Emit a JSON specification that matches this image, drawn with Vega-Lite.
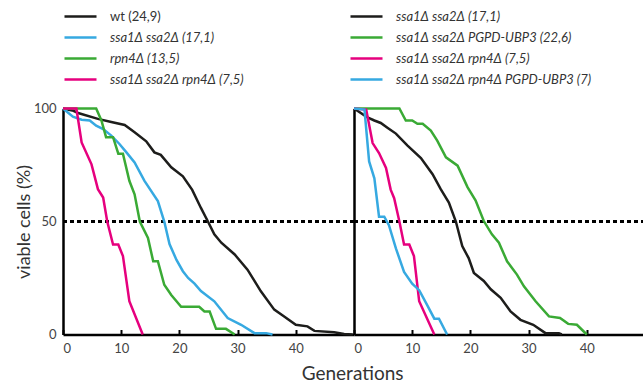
{
  "$schema": "https://vega.github.io/schema/vega-lite/v6.json",
  "padding": {"left": 15, "top": 9.5, "right": 0, "bottom": 0},
  "spacing": 0,
  "bounds": "flush",
  "config": {
    "view": {"stroke": null},
    "font": "Lato",
    "legend": {
      "orient": "none",
      "symbolType": "M-3.2,0H3.2",
      "symbolSize": 100,
      "symbolStrokeWidth": 2.5,
      "symbolFillColor": "transparent",
      "labelFont": "Lato",
      "labelFontSize": 13,
      "labelColor": "#333333",
      "rowPadding": 7,
      "labelOffset": 23,
      "labelLimit": 400,
      "padding": 0,
      "title": null
    },
    "axis": {
      "grid": false,
      "domainColor": "black",
      "domainWidth": 2.5,
      "labelFont": "Lato",
      "labelFontSize": 13,
      "labelColor": "#444444",
      "titleFont": "Lato",
      "titleFontWeight": "normal",
      "titleColor": "#333333"
    }
  },
  "title": {"text": "Generations", "orient": "bottom", "anchor": "middle", "fontSize": 19, "fontWeight": "normal", "font": "Lato", "color": "#333333", "offset": 10, "dx": 22},
  "resolve": {"scale": {"color": "independent"}, "legend": {"color": "independent"}},
  "datasets": {
    "left": [
      {"s": "wt (24,9)", "g": 0, "v": 100}, {"s": "wt (24,9)", "g": 1.8, "v": 99}, {"s": "wt (24,9)", "g": 2.6, "v": 98}, {"s": "wt (24,9)", "g": 6, "v": 95.4}, {"s": "wt (24,9)", "g": 8.3, "v": 94}, {"s": "wt (24,9)", "g": 10.6, "v": 92.7}, {"s": "wt (24,9)", "g": 12.3, "v": 89.5}, {"s": "wt (24,9)", "g": 14.3, "v": 85.5}, {"s": "wt (24,9)", "g": 15.7, "v": 80.6}, {"s": "wt (24,9)", "g": 16.8, "v": 79.5}, {"s": "wt (24,9)", "g": 18.6, "v": 74}, {"s": "wt (24,9)", "g": 20.6, "v": 70}, {"s": "wt (24,9)", "g": 22.2, "v": 64}, {"s": "wt (24,9)", "g": 23.7, "v": 56}, {"s": "wt (24,9)", "g": 24.9, "v": 50}, {"s": "wt (24,9)", "g": 26, "v": 44.3}, {"s": "wt (24,9)", "g": 27.2, "v": 40.6}, {"s": "wt (24,9)", "g": 29.5, "v": 35.4}, {"s": "wt (24,9)", "g": 31.7, "v": 28.7}, {"s": "wt (24,9)", "g": 34, "v": 19.1}, {"s": "wt (24,9)", "g": 36.3, "v": 11}, {"s": "wt (24,9)", "g": 38, "v": 8}, {"s": "wt (24,9)", "g": 40, "v": 4.3}, {"s": "wt (24,9)", "g": 42, "v": 3.6}, {"s": "wt (24,9)", "g": 43.2, "v": 1.6}, {"s": "wt (24,9)", "g": 46.6, "v": 1}, {"s": "wt (24,9)", "g": 48.3, "v": 0.2}, {"s": "wt (24,9)", "g": 49.8, "v": 0},
      {"s": "ssa1Δ ssa2Δ (17,1)", "g": 0, "v": 100}, {"s": "ssa1Δ ssa2Δ (17,1)", "g": 1.7, "v": 96.4}, {"s": "ssa1Δ ssa2Δ (17,1)", "g": 3.2, "v": 95}, {"s": "ssa1Δ ssa2Δ (17,1)", "g": 4.6, "v": 94.7}, {"s": "ssa1Δ ssa2Δ (17,1)", "g": 5.7, "v": 92.4}, {"s": "ssa1Δ ssa2Δ (17,1)", "g": 6.9, "v": 90.9}, {"s": "ssa1Δ ssa2Δ (17,1)", "g": 8.3, "v": 88}, {"s": "ssa1Δ ssa2Δ (17,1)", "g": 9.7, "v": 84.3}, {"s": "ssa1Δ ssa2Δ (17,1)", "g": 10.9, "v": 80.6}, {"s": "ssa1Δ ssa2Δ (17,1)", "g": 12.3, "v": 76.1}, {"s": "ssa1Δ ssa2Δ (17,1)", "g": 14, "v": 68}, {"s": "ssa1Δ ssa2Δ (17,1)", "g": 16.3, "v": 59}, {"s": "ssa1Δ ssa2Δ (17,1)", "g": 17.4, "v": 50}, {"s": "ssa1Δ ssa2Δ (17,1)", "g": 18.3, "v": 40}, {"s": "ssa1Δ ssa2Δ (17,1)", "g": 19.5, "v": 33}, {"s": "ssa1Δ ssa2Δ (17,1)", "g": 20.6, "v": 28}, {"s": "ssa1Δ ssa2Δ (17,1)", "g": 21.5, "v": 25}, {"s": "ssa1Δ ssa2Δ (17,1)", "g": 22.6, "v": 22.5}, {"s": "ssa1Δ ssa2Δ (17,1)", "g": 23.7, "v": 19.2}, {"s": "ssa1Δ ssa2Δ (17,1)", "g": 26, "v": 14.7}, {"s": "ssa1Δ ssa2Δ (17,1)", "g": 28.3, "v": 7.3}, {"s": "ssa1Δ ssa2Δ (17,1)", "g": 30.6, "v": 4.3}, {"s": "ssa1Δ ssa2Δ (17,1)", "g": 32.9, "v": 0.6}, {"s": "ssa1Δ ssa2Δ (17,1)", "g": 34.9, "v": 0.6}, {"s": "ssa1Δ ssa2Δ (17,1)", "g": 36, "v": 0},
      {"s": "rpn4Δ (13,5)", "g": 0, "v": 100}, {"s": "rpn4Δ (13,5)", "g": 5.7, "v": 100}, {"s": "rpn4Δ (13,5)", "g": 6.6, "v": 94.7}, {"s": "rpn4Δ (13,5)", "g": 7.4, "v": 87.3}, {"s": "rpn4Δ (13,5)", "g": 8.6, "v": 87.3}, {"s": "rpn4Δ (13,5)", "g": 9.5, "v": 80}, {"s": "rpn4Δ (13,5)", "g": 10.3, "v": 80}, {"s": "rpn4Δ (13,5)", "g": 11.4, "v": 68}, {"s": "rpn4Δ (13,5)", "g": 12.3, "v": 62}, {"s": "rpn4Δ (13,5)", "g": 13.2, "v": 50}, {"s": "rpn4Δ (13,5)", "g": 14.6, "v": 42.7}, {"s": "rpn4Δ (13,5)", "g": 15.5, "v": 32.4}, {"s": "rpn4Δ (13,5)", "g": 16.3, "v": 32.4}, {"s": "rpn4Δ (13,5)", "g": 17.4, "v": 22}, {"s": "rpn4Δ (13,5)", "g": 18.6, "v": 17.5}, {"s": "rpn4Δ (13,5)", "g": 20.3, "v": 12.3}, {"s": "rpn4Δ (13,5)", "g": 23.4, "v": 12.3}, {"s": "rpn4Δ (13,5)", "g": 24.3, "v": 10.2}, {"s": "rpn4Δ (13,5)", "g": 25.2, "v": 10.2}, {"s": "rpn4Δ (13,5)", "g": 26.3, "v": 2.5}, {"s": "rpn4Δ (13,5)", "g": 28, "v": 2.5}, {"s": "rpn4Δ (13,5)", "g": 29.5, "v": 0},
      {"s": "ssa1Δ ssa2Δ rpn4Δ (7,5)", "g": 0, "v": 100}, {"s": "ssa1Δ ssa2Δ rpn4Δ (7,5)", "g": 2.3, "v": 100}, {"s": "ssa1Δ ssa2Δ rpn4Δ (7,5)", "g": 3.2, "v": 85}, {"s": "ssa1Δ ssa2Δ rpn4Δ (7,5)", "g": 4.9, "v": 75.3}, {"s": "ssa1Δ ssa2Δ rpn4Δ (7,5)", "g": 6, "v": 64.3}, {"s": "ssa1Δ ssa2Δ rpn4Δ (7,5)", "g": 6.9, "v": 60.6}, {"s": "ssa1Δ ssa2Δ rpn4Δ (7,5)", "g": 7.6, "v": 50}, {"s": "ssa1Δ ssa2Δ rpn4Δ (7,5)", "g": 8.6, "v": 39.8}, {"s": "ssa1Δ ssa2Δ rpn4Δ (7,5)", "g": 9.5, "v": 39.8}, {"s": "ssa1Δ ssa2Δ rpn4Δ (7,5)", "g": 10.3, "v": 34.7}, {"s": "ssa1Δ ssa2Δ rpn4Δ (7,5)", "g": 11.4, "v": 14.7}, {"s": "ssa1Δ ssa2Δ rpn4Δ (7,5)", "g": 13.7, "v": 0}
    ],
    "right": [
      {"s": "ssa1Δ ssa2Δ (17,1)", "g": 0, "v": 100}, {"s": "ssa1Δ ssa2Δ (17,1)", "g": 2.3, "v": 96.1}, {"s": "ssa1Δ ssa2Δ (17,1)", "g": 3.5, "v": 94.7}, {"s": "ssa1Δ ssa2Δ (17,1)", "g": 4.6, "v": 93.6}, {"s": "ssa1Δ ssa2Δ (17,1)", "g": 5.8, "v": 91.4}, {"s": "ssa1Δ ssa2Δ (17,1)", "g": 7.2, "v": 88.9}, {"s": "ssa1Δ ssa2Δ (17,1)", "g": 9.2, "v": 83.6}, {"s": "ssa1Δ ssa2Δ (17,1)", "g": 11.5, "v": 78.1}, {"s": "ssa1Δ ssa2Δ (17,1)", "g": 13.5, "v": 70.9}, {"s": "ssa1Δ ssa2Δ (17,1)", "g": 14.9, "v": 64.3}, {"s": "ssa1Δ ssa2Δ (17,1)", "g": 16.3, "v": 58.4}, {"s": "ssa1Δ ssa2Δ (17,1)", "g": 17.5, "v": 50}, {"s": "ssa1Δ ssa2Δ (17,1)", "g": 18.6, "v": 39.1}, {"s": "ssa1Δ ssa2Δ (17,1)", "g": 19.7, "v": 33.8}, {"s": "ssa1Δ ssa2Δ (17,1)", "g": 20.6, "v": 27.2}, {"s": "ssa1Δ ssa2Δ (17,1)", "g": 22.3, "v": 23.7}, {"s": "ssa1Δ ssa2Δ (17,1)", "g": 23.5, "v": 20}, {"s": "ssa1Δ ssa2Δ (17,1)", "g": 25.2, "v": 16.2}, {"s": "ssa1Δ ssa2Δ (17,1)", "g": 26.9, "v": 10.2}, {"s": "ssa1Δ ssa2Δ (17,1)", "g": 28.6, "v": 6.5}, {"s": "ssa1Δ ssa2Δ (17,1)", "g": 30.8, "v": 4.3}, {"s": "ssa1Δ ssa2Δ (17,1)", "g": 32.9, "v": 0.6}, {"s": "ssa1Δ ssa2Δ (17,1)", "g": 35.2, "v": 0.6}, {"s": "ssa1Δ ssa2Δ (17,1)", "g": 35.7, "v": 0},
      {"s": "ssa1Δ ssa2Δ PGPD-UBP3 (22,6)", "g": 0, "v": 100}, {"s": "ssa1Δ ssa2Δ PGPD-UBP3 (22,6)", "g": 7.8, "v": 100}, {"s": "ssa1Δ ssa2Δ PGPD-UBP3 (22,6)", "g": 8.9, "v": 94.7}, {"s": "ssa1Δ ssa2Δ PGPD-UBP3 (22,6)", "g": 10, "v": 94.7}, {"s": "ssa1Δ ssa2Δ PGPD-UBP3 (22,6)", "g": 10.9, "v": 93.2}, {"s": "ssa1Δ ssa2Δ PGPD-UBP3 (22,6)", "g": 11.8, "v": 93.2}, {"s": "ssa1Δ ssa2Δ PGPD-UBP3 (22,6)", "g": 13.2, "v": 90.2}, {"s": "ssa1Δ ssa2Δ PGPD-UBP3 (22,6)", "g": 14.3, "v": 85.8}, {"s": "ssa1Δ ssa2Δ PGPD-UBP3 (22,6)", "g": 15.8, "v": 78.4}, {"s": "ssa1Δ ssa2Δ PGPD-UBP3 (22,6)", "g": 17.8, "v": 74.7}, {"s": "ssa1Δ ssa2Δ PGPD-UBP3 (22,6)", "g": 19.5, "v": 65.2}, {"s": "ssa1Δ ssa2Δ PGPD-UBP3 (22,6)", "g": 20.9, "v": 59.3}, {"s": "ssa1Δ ssa2Δ PGPD-UBP3 (22,6)", "g": 22.3, "v": 50.2}, {"s": "ssa1Δ ssa2Δ PGPD-UBP3 (22,6)", "g": 23.7, "v": 44.3}, {"s": "ssa1Δ ssa2Δ PGPD-UBP3 (22,6)", "g": 24.9, "v": 40.6}, {"s": "ssa1Δ ssa2Δ PGPD-UBP3 (22,6)", "g": 26.3, "v": 32.4}, {"s": "ssa1Δ ssa2Δ PGPD-UBP3 (22,6)", "g": 28, "v": 26.5}, {"s": "ssa1Δ ssa2Δ PGPD-UBP3 (22,6)", "g": 29.2, "v": 21.3}, {"s": "ssa1Δ ssa2Δ PGPD-UBP3 (22,6)", "g": 31.2, "v": 14.7}, {"s": "ssa1Δ ssa2Δ PGPD-UBP3 (22,6)", "g": 33.5, "v": 8}, {"s": "ssa1Δ ssa2Δ PGPD-UBP3 (22,6)", "g": 35.4, "v": 7.3}, {"s": "ssa1Δ ssa2Δ PGPD-UBP3 (22,6)", "g": 36.8, "v": 4.7}, {"s": "ssa1Δ ssa2Δ PGPD-UBP3 (22,6)", "g": 38.3, "v": 4.3}, {"s": "ssa1Δ ssa2Δ PGPD-UBP3 (22,6)", "g": 40, "v": 0},
      {"s": "ssa1Δ ssa2Δ rpn4Δ (7,5)", "g": 0, "v": 100}, {"s": "ssa1Δ ssa2Δ rpn4Δ (7,5)", "g": 2.1, "v": 99.5}, {"s": "ssa1Δ ssa2Δ rpn4Δ (7,5)", "g": 3.2, "v": 84.7}, {"s": "ssa1Δ ssa2Δ rpn4Δ (7,5)", "g": 4.3, "v": 80.3}, {"s": "ssa1Δ ssa2Δ rpn4Δ (7,5)", "g": 5.5, "v": 73.7}, {"s": "ssa1Δ ssa2Δ rpn4Δ (7,5)", "g": 6.3, "v": 64.1}, {"s": "ssa1Δ ssa2Δ rpn4Δ (7,5)", "g": 6.9, "v": 60.3}, {"s": "ssa1Δ ssa2Δ rpn4Δ (7,5)", "g": 7.8, "v": 50}, {"s": "ssa1Δ ssa2Δ rpn4Δ (7,5)", "g": 8.6, "v": 39.8}, {"s": "ssa1Δ ssa2Δ rpn4Δ (7,5)", "g": 9.5, "v": 39.8}, {"s": "ssa1Δ ssa2Δ rpn4Δ (7,5)", "g": 10.3, "v": 34.7}, {"s": "ssa1Δ ssa2Δ rpn4Δ (7,5)", "g": 11.2, "v": 14.7}, {"s": "ssa1Δ ssa2Δ rpn4Δ (7,5)", "g": 13.8, "v": 0},
      {"s": "ssa1Δ ssa2Δ rpn4Δ PGPD-UBP3 (7)", "g": 0, "v": 100}, {"s": "ssa1Δ ssa2Δ rpn4Δ PGPD-UBP3 (7)", "g": 1.8, "v": 99.5}, {"s": "ssa1Δ ssa2Δ rpn4Δ PGPD-UBP3 (7)", "g": 2.6, "v": 76.6}, {"s": "ssa1Δ ssa2Δ rpn4Δ PGPD-UBP3 (7)", "g": 3.5, "v": 69.1}, {"s": "ssa1Δ ssa2Δ rpn4Δ PGPD-UBP3 (7)", "g": 4.3, "v": 52.1}, {"s": "ssa1Δ ssa2Δ rpn4Δ PGPD-UBP3 (7)", "g": 5.2, "v": 52.1}, {"s": "ssa1Δ ssa2Δ rpn4Δ PGPD-UBP3 (7)", "g": 6, "v": 48.4}, {"s": "ssa1Δ ssa2Δ rpn4Δ PGPD-UBP3 (7)", "g": 7.2, "v": 38.1}, {"s": "ssa1Δ ssa2Δ rpn4Δ PGPD-UBP3 (7)", "g": 8.6, "v": 27.7}, {"s": "ssa1Δ ssa2Δ rpn4Δ PGPD-UBP3 (7)", "g": 10, "v": 22.5}, {"s": "ssa1Δ ssa2Δ rpn4Δ PGPD-UBP3 (7)", "g": 11.2, "v": 19.6}, {"s": "ssa1Δ ssa2Δ rpn4Δ PGPD-UBP3 (7)", "g": 12.6, "v": 12.9}, {"s": "ssa1Δ ssa2Δ rpn4Δ PGPD-UBP3 (7)", "g": 13.8, "v": 7}, {"s": "ssa1Δ ssa2Δ rpn4Δ PGPD-UBP3 (7)", "g": 14.6, "v": 7}, {"s": "ssa1Δ ssa2Δ rpn4Δ PGPD-UBP3 (7)", "g": 16, "v": 0}
    ]
  },
  "hconcat": [
    {
      "width": 291,
      "height": 226,
      "data": {"name": "left"},
      "layer": [
        {
          "mark": {"type": "rule", "strokeDash": [4, 3], "strokeWidth": 1.6, "color": "black"},
          "encoding": {"y": {"datum": 50, "type": "quantitative", "scale": {"domain": [0, 100]}}}
        },
        {
          "mark": {"type": "line", "strokeWidth": 2.5},
          "encoding": {
            "x": {"field": "g", "type": "quantitative", "scale": {"domain": [0, 50], "nice": false},
              "axis": {"values": [0, 10, 20, 30, 40], "tickSize": -5, "tickWidth": 2, "tickColor": "black", "labelPadding": 12.5, "title": null}},
            "y": {"field": "v", "type": "quantitative", "scale": {"domain": [0, 100], "nice": false},
              "axis": {"values": [0, 50, 100], "ticks": false, "labelPadding": 7, "title": "viable cells (%)", "titleFontSize": 18, "titlePadding": 0}},
            "color": {"field": "s", "type": "nominal",
              "scale": {"domain": ["wt (24,9)", "ssa1Δ ssa2Δ (17,1)", "rpn4Δ (13,5)", "ssa1Δ ssa2Δ rpn4Δ (7,5)"], "range": ["#1d1d1b", "#36a9e1", "#3aaa35", "#e6007e"]},
              "legend": {"legendX": 11, "legendY": -98.5, "labelFontStyle": {"expr": "datum.label == 'wt (24,9)' ? 'normal' : 'italic'"}}}
          }
        }
      ]
    },
    {
      "width": 291,
      "height": 226,
      "data": {"name": "right"},
      "layer": [
        {
          "mark": {"type": "rule", "strokeDash": [4, 3], "strokeWidth": 1.6, "color": "black"},
          "encoding": {"y": {"datum": 50, "type": "quantitative", "scale": {"domain": [0, 100]}}}
        },
        {
          "mark": {"type": "line", "strokeWidth": 2.5},
          "encoding": {
            "x": {"field": "g", "type": "quantitative", "scale": {"domain": [0, 50], "nice": false},
              "axis": {"values": [0, 10, 20, 30, 40], "tickSize": -5, "tickWidth": 2, "tickColor": "black", "labelPadding": 12.5, "title": null}},
            "y": {"field": "v", "type": "quantitative", "scale": {"domain": [0, 100], "nice": false},
              "axis": {"labels": false, "ticks": false, "title": null}},
            "color": {"field": "s", "type": "nominal",
              "scale": {"domain": ["ssa1Δ ssa2Δ (17,1)", "ssa1Δ ssa2Δ PGPD-UBP3 (22,6)", "ssa1Δ ssa2Δ rpn4Δ (7,5)", "ssa1Δ ssa2Δ rpn4Δ PGPD-UBP3 (7)"], "range": ["#1d1d1b", "#3aaa35", "#e6007e", "#36a9e1"]},
              "legend": {"legendX": 6, "legendY": -98.5, "labelFontStyle": "italic"}}
          }
        }
      ]
    }
  ]
}
